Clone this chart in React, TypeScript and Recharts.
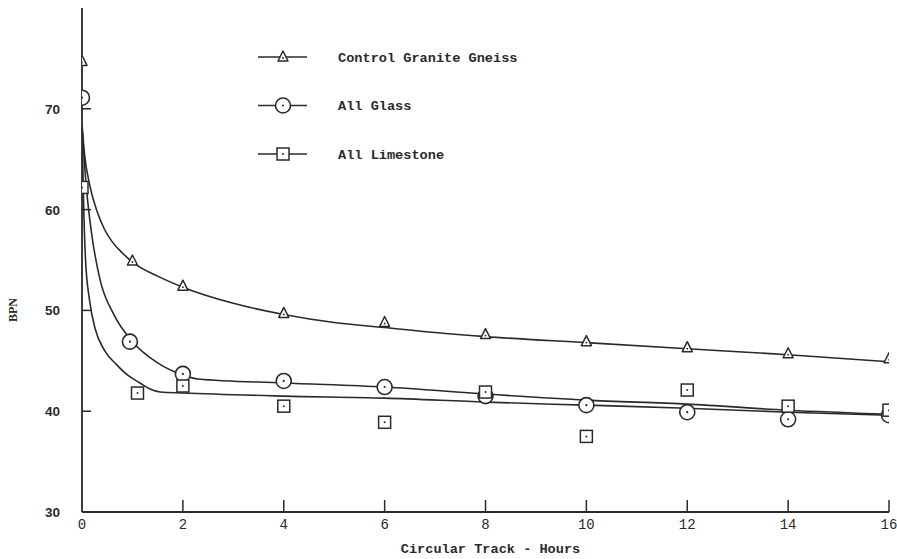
import React from "react";
import { ComposedChart, Line, Scatter, XAxis, YAxis } from "recharts";

// measured points (BPN vs hours on circular track)
const hours = [0, 1, 2, 4, 6, 8, 10, 12, 14, 16];
const graniteBpn = [74.7, 54.9, 52.4, 49.7, 48.8, 47.6, 46.9, 46.3, 45.7, 45.2];
const glassHours = [0, 0.95, 2, 4, 6, 8, 10, 12, 14, 16];
const glassBpn = [71.1, 46.9, 43.7, 43.0, 42.4, 41.5, 40.6, 39.9, 39.2, 39.6];
const limestoneHours = [0, 1.1, 2, 4, 6, 8, 10, 12, 14, 16];
const limestoneBpn = [62.2, 41.8, 42.5, 40.5, 38.9, 41.9, 37.5, 42.1, 40.5, 40.1];

// hand-drawn fitted curves
const graniteFitHours = [0, 0.05, 0.15, 0.3, 0.45, 0.6, 0.8, 1, 1.5, 2, 3, 4, 5, 6, 7, 8, 10, 12, 14, 16];
const graniteFit = [68.4, 65.5, 62.5, 59.8, 58.0, 56.8, 55.7, 54.8, 53.4, 52.3, 50.7, 49.6, 48.8, 48.3, 47.8, 47.4, 46.8, 46.2, 45.6, 44.9];
const glassFitHours = [0, 0.05, 0.1, 0.18, 0.36, 0.62, 1, 1.5, 2, 2.3, 4, 6, 8, 10, 12, 14, 16];
const glassFit = [68.4, 64.5, 61.5, 58.0, 53.0, 49.7, 46.9, 44.8, 43.6, 43.2, 42.8, 42.4, 41.7, 41.1, 40.7, 40.1, 39.7];
const limestoneFitHours = [0, 0.03, 0.07, 0.15, 0.26, 0.45, 0.69, 0.9, 1.15, 1.35, 1.55, 2, 4, 6, 8, 10, 12, 14, 16];
const limestoneFit = [68.4, 61.0, 55.0, 51.0, 48.2, 46.0, 44.6, 43.6, 42.8, 42.2, 41.9, 41.8, 41.5, 41.3, 40.9, 40.6, 40.3, 39.9, 39.6];

const xTicks = [0, 2, 4, 6, 8, 10, 12, 14, 16];
const yTicks = [30, 40, 50, 60, 70];
const seriesNames = ["Control Granite Gneiss", "All Glass", "All Limestone"];

const ink = "#2a2a2a";
const mono = "'Liberation Mono', 'DejaVu Sans Mono', monospace";

const toPoints = (xs: number[], ys: number[]) => xs.map((x, i) => ({ x, y: ys[i] }));

const Triangle = ({ cx, cy }: any) => (
  <g>
    <polygon
      points={`${cx},${cy - 6} ${cx - 5},${cy + 4} ${cx + 5},${cy + 4}`}
      fill="#fff"
      stroke={ink}
      strokeWidth={1.5}
      strokeLinejoin="round"
    />
    <circle cx={cx} cy={cy + 1} r={0.9} fill={ink} />
  </g>
);

const Ring = ({ cx, cy }: any) => (
  <g>
    <circle cx={cx} cy={cy} r={7.5} fill="#fff" stroke={ink} strokeWidth={1.6} />
    <circle cx={cx} cy={cy} r={1.1} fill={ink} />
  </g>
);

const Box = ({ cx, cy }: any) => (
  <g>
    <rect x={cx - 6} y={cy - 6} width={12} height={12} fill="#fff" stroke={ink} strokeWidth={1.5} />
    <circle cx={cx} cy={cy} r={1} fill={ink} />
  </g>
);

const markers = [Triangle, Ring, Box];

const YTick = ({ x, y, payload }: any) => (
  <g>
    <text
      x={x - 22}
      y={y}
      dy={5}
      textAnchor="end"
      fontFamily="'Liberation Sans', Arial, sans-serif"
      fontWeight="bold"
      fontSize={13.5}
      fill={ink}
    >
      {payload.value}
    </text>
    {payload.value !== 30 && <line x1={x} x2={x + 9} y1={y} y2={y} stroke={ink} strokeWidth={1.5} />}
  </g>
);

const XTick = ({ x, y, payload }: any) => (
  <g>
    <text x={x} y={y + 17} textAnchor="middle" fontFamily={mono} fontSize={14} fill={ink}>
      {payload.value}
    </text>
    {payload.value !== 0 && <line x1={x} x2={x} y1={y} y2={y - 12} stroke={ink} strokeWidth={1.5} />}
  </g>
);

const LegendBlock = () => (
  <g>
    {seriesNames.map((name, i) => {
      const M = markers[i];
      const cy = 57 + i * 48.5;
      return (
        <g key={name}>
          <line x1={258} x2={307} y1={cy} y2={cy} stroke={ink} strokeWidth={1.6} />
          <M cx={283} cy={cy} />
          <text x={338} y={cy + 4.5} fontFamily={mono} fontWeight="bold" fontSize={13.6} fill={ink}>
            {name}
          </text>
        </g>
      );
    })}
  </g>
);

export default function App() {
  const fits = [
    toPoints(graniteFitHours, graniteFit),
    toPoints(glassFitHours, glassFit),
    toPoints(limestoneFitHours, limestoneFit),
  ];
  const points = [
    toPoints(hours, graniteBpn),
    toPoints(glassHours, glassBpn),
    toPoints(limestoneHours, limestoneBpn),
  ];

  return (
    <div style={{ position: "absolute", left: 0, top: 0, background: "#fff" }}>
      <ComposedChart width={897} height={559} margin={{ top: 8, right: 8, left: 0, bottom: 0 }}>
        <XAxis
          type="number"
          dataKey="x"
          domain={[0, 16]}
          ticks={xTicks}
          allowDataOverflow
          height={47}
          tickSize={0}
          tickMargin={0}
          tickLine={false}
          tick={<XTick />}
          axisLine={{ stroke: ink, strokeWidth: 1.8 }}
          label={({ viewBox }: any) => (
            <text
              x={viewBox.x + viewBox.width / 2 + 5}
              y={viewBox.y + 41}
              textAnchor="middle"
              fontFamily={mono}
              fontWeight="bold"
              fontSize={13.6}
              fill={ink}
            >
              Circular Track - Hours
            </text>
          )}
        />
        <YAxis
          type="number"
          dataKey="y"
          domain={[30, 80]}
          ticks={yTicks}
          allowDataOverflow
          width={82}
          tickSize={0}
          tickMargin={0}
          tickLine={false}
          tick={<YTick />}
          axisLine={{ stroke: ink, strokeWidth: 1.8 }}
          label={() => (
            <text
              x={13}
              y={310}
              transform="rotate(-90 13 310)"
              textAnchor="middle"
              dy={4}
              fontFamily="'Liberation Serif', serif"
              fontWeight="bold"
              fontSize={12}
              fill={ink}
            >
              BPN
            </text>
          )}
        />
        {fits.map((d, i) => (
          <Line
            key={seriesNames[i] + "-fit"}
            data={d}
            dataKey="y"
            type="monotone"
            stroke={ink}
            strokeWidth={1.6}
            dot={false}
            activeDot={false}
            isAnimationActive={false}
          />
        ))}
        {points.map((d, i) => {
          const M = markers[i];
          return (
            <Scatter
              key={seriesNames[i]}
              name={seriesNames[i]}
              data={d}
              dataKey="y"
              shape={(p: any) => <M cx={p.cx} cy={p.cy} />}
              isAnimationActive={false}
            />
          );
        })}
        <LegendBlock />
      </ComposedChart>
    </div>
  );
}
